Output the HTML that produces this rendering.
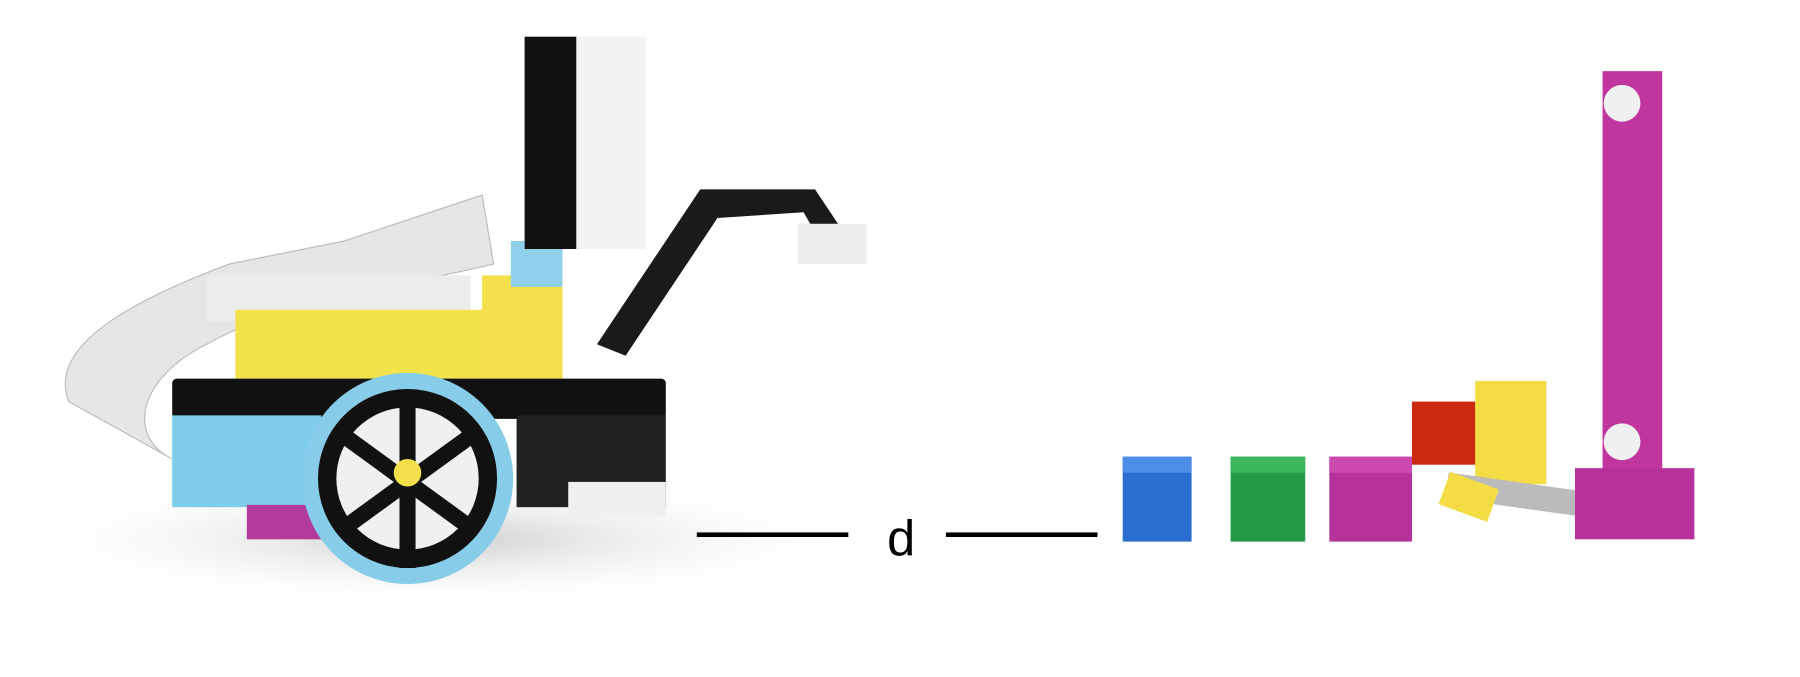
<!DOCTYPE html>
<html><head><style>html,body{margin:0;padding:0;background:#fff;}svg{display:block}</style></head>
<body>
<svg width="1800" height="677" viewBox="0 0 1568 590" xmlns="http://www.w3.org/2000/svg" preserveAspectRatio="none">
<defs>
<radialGradient id="sh" cx="0.5" cy="0.5" r="0.5"><stop offset="0" stop-color="#ccc"/><stop offset="1" stop-color="#fff" stop-opacity="0"/></radialGradient>
</defs>
<rect width="1568" height="590" fill="#fff"/>
<ellipse cx="380" cy="470" rx="380" ry="60" fill="url(#sh)"/>
<!-- robot -->
<path d="M60 350 C40 300 120 260 200 230 L300 210 L420 170 L430 230 C350 250 250 260 180 300 C120 330 110 380 150 400 Z" fill="#e6e6e6" stroke="#bbb"/>
<rect x="180" y="240" width="230" height="40" fill="#ececec"/>
<rect x="205" y="270" width="285" height="60" fill="#f2e34a"/>
<rect x="420" y="240" width="70" height="90" fill="#f4e04a"/>
<rect x="445" y="210" width="45" height="40" fill="#8fd0ea"/>
<rect x="457" y="32" width="105" height="185" fill="#f2f2f2"/>
<rect x="457" y="32" width="45" height="185" fill="#111"/>
<polygon points="520,300 610,165 710,165 740,210 720,220 700,185 625,190 545,310" fill="#1a1a1a"/>
<rect x="695" y="195" width="60" height="35" fill="#eee"/>
<rect x="150" y="330" width="430" height="35" fill="#111" rx="4"/>
<rect x="150" y="362" width="130" height="80" fill="#7fcdea"/>
<rect x="450" y="362" width="130" height="80" fill="#222"/>
<rect x="495" y="420" width="85" height="30" fill="#f0f0f0"/>
<rect x="215" y="440" width="200" height="30" fill="#b33c9a"/>
<circle cx="355" cy="417" r="92" fill="#87cde9"/>
<circle cx="355" cy="417" r="78" fill="#111"/>
<circle cx="355" cy="417" r="62" fill="#f0f0f0"/>
<path d="M300 380 L410 460 M300 460 L410 380 M355 340 L355 495" stroke="#111" stroke-width="14"/>
<circle cx="355" cy="412" r="12" fill="#f4e04a"/>
<!-- line + d -->
<rect x="607" y="464" width="132" height="4" fill="#000"/>
<rect x="824" y="464" width="132" height="4" fill="#000"/>
<text x="785" y="484" font-family="Liberation Sans, sans-serif" font-size="44" text-anchor="middle" fill="#000">d</text>
<!-- bricks -->
<rect x="978" y="398" width="60" height="74" fill="#2a6fd0"/>
<rect x="978" y="398" width="60" height="14" fill="#4c8de6"/>
<rect x="1072" y="398" width="65" height="74" fill="#239b45"/>
<rect x="1072" y="398" width="65" height="14" fill="#3cb85c"/>
<rect x="1158" y="398" width="72" height="74" fill="#b6329a"/>
<rect x="1158" y="398" width="72" height="14" fill="#cc4ab0"/>
<rect x="1230" y="350" width="60" height="55" fill="#cc2a10"/>
<rect x="1285" y="332" width="62" height="90" fill="#f4dc45"/>
<rect x="1260" y="420" width="120" height="22" fill="#bbb" transform="rotate(8 1320 430)"/>
<rect x="1258" y="418" width="45" height="30" fill="#f4dc45" transform="rotate(20 1280 430)"/>
<rect x="1396" y="62" width="52" height="360" fill="#c1359e"/>
<rect x="1372" y="408" width="104" height="62" fill="#b6329a"/>
<circle cx="1413" cy="90" r="16" fill="#f0f0f0"/>
<circle cx="1413" cy="385" r="16" fill="#f0f0f0"/>
</svg>
</body></html>
